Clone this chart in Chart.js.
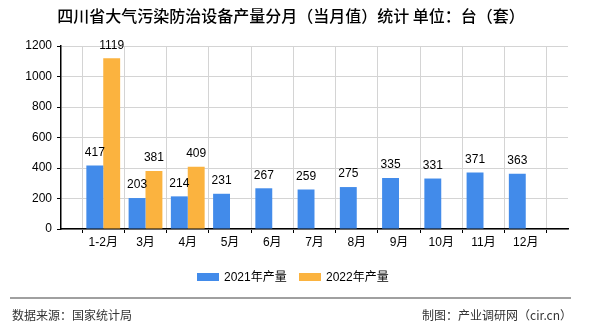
<!DOCTYPE html>
<html>
<head>
<meta charset="utf-8">
<script src="https://cdn.jsdelivr.net/npm/chart.js@4/dist/chart.umd.min.js"></script>
<style>
	html, body { margin: 0; padding: 0; background: #fff; }
	#wrap { width: 590px; height: 330px; }
</style>
</head>
<body>
<div id="wrap"><canvas id="prodChart" width="590" height="330"></canvas></div>
<script>
// monthly output, units: 台（套）
const months = ['1-2月', '3月', '4月', '5月', '6月', '7月', '8月', '9月', '10月', '11月', '12月'];
const output2021 = [417, 203, 214, 231, 267, 259, 275, 335, 331, 371, 363];
const output2022 = [1119, 381, 409];
const seriesNames = ['2021年产量', '2022年产量'];
const seriesColors = ['#428bea', '#fbb33f'];
const yMax = 1200;
const yStep = 200;

const titleText = '四川省大气污染防治设备产量分月（当月值）统计 单位：台（套）';
const sourceText = '数据来源：国家统计局';
const creditText = '制图：产业调研网（cir.cn）';

const FONT = '"Liberation Sans", "Noto Sans CJK SC", sans-serif';

// empty slot on each side so the months sit on the grid lines
function padded(values) {
	const out = [null];
	for (let i = 0; i < months.length; i++) {
		out.push(i < values.length ? values[i] : null);
	}
	out.push(null);
	return out;
}

const valueLabels = {
	id: 'valueLabels',
	afterDatasetsDraw(chart) {
		const ctx = chart.ctx;
		ctx.save();
		ctx.font = '12px ' + FONT;
		ctx.fillStyle = '#000';
		ctx.textAlign = 'center';
		ctx.textBaseline = 'middle';
		chart.data.datasets.forEach((ds, di) => {
			const meta = chart.getDatasetMeta(di);
			meta.data.forEach((bar, i) => {
				const v = ds.data[i];
				if (v === null || v === undefined) return;
				ctx.fillText(String(v), bar.x, bar.y - 13);
			});
		});
		ctx.restore();
	}
};

const decorations = {
	id: 'decorations',
	afterDraw(chart) {
		const ctx = chart.ctx;
		ctx.save();

		// title
		ctx.font = '500 16px "Noto Sans CJK SC", sans-serif';
		ctx.fillStyle = '#000';
		ctx.textAlign = 'center';
		ctx.textBaseline = 'middle';
		ctx.fillText(titleText, 291, 16);

		// legend
		ctx.font = '12px ' + FONT;
		ctx.textAlign = 'left';
		let x = 197;
		seriesNames.forEach((name, i) => {
			ctx.fillStyle = seriesColors[i];
			ctx.fillRect(x, 273, 22, 8);
			ctx.fillStyle = '#000';
			ctx.fillText(name, x + 27, 277.5);
			x += 102;
		});

		// footer rule and texts
		ctx.strokeStyle = '#808080';
		ctx.lineWidth = 1.5;
		ctx.beginPath();
		ctx.moveTo(10, 298);
		ctx.lineTo(571, 298);
		ctx.stroke();

		ctx.font = '12px "Noto Sans CJK SC", sans-serif';
		ctx.fillStyle = '#333';
		ctx.fillText(sourceText, 12, 315);
		ctx.textAlign = 'right';
		ctx.fillText(creditText, 572, 315);

		ctx.restore();
	}
};

new Chart(document.getElementById('prodChart'), {
	type: 'bar',
	data: {
		labels: [''].concat(months, ['']),
		datasets: [
			{ label: seriesNames[0], data: padded(output2021), backgroundColor: seriesColors[0] },
			{ label: seriesNames[1], data: padded(output2022), backgroundColor: seriesColors[1] }
		]
	},
	options: {
		responsive: false,
		animation: false,
		events: [],
		layout: { padding: { top: 46, right: 22, bottom: 71, left: 0 } },
		datasets: { bar: { categoryPercentage: 0.8, barPercentage: 1.0 } },
		plugins: {
			legend: { display: false },
			title: { display: false },
			tooltip: { enabled: false }
		},
		scales: {
			x: {
				offset: false,
				grid: { color: '#d4d4d4', tickColor: '#000', tickLength: 4, lineWidth: 1 },
				border: { color: '#000', width: 1.5 },
				ticks: {
					color: '#000',
					font: { family: FONT, size: 12 },
					padding: 2,
					maxRotation: 0,
					autoSkip: false
				},
				afterFit(scale) { scale.height = 30; }
			},
			y: {
				min: 0,
				max: yMax,
				grid: { color: '#d4d4d4', tickColor: '#000', tickLength: 4 },
				border: { color: '#000', width: 1.5 },
				ticks: {
					stepSize: yStep,
					color: '#000',
					font: { family: FONT, size: 12 },
					padding: 5,
					callback: (value) => String(value)
				},
				afterFit(scale) { scale.width = 61; }
			}
		}
	},
	plugins: [valueLabels, decorations]
});
</script>
</body>
</html>
